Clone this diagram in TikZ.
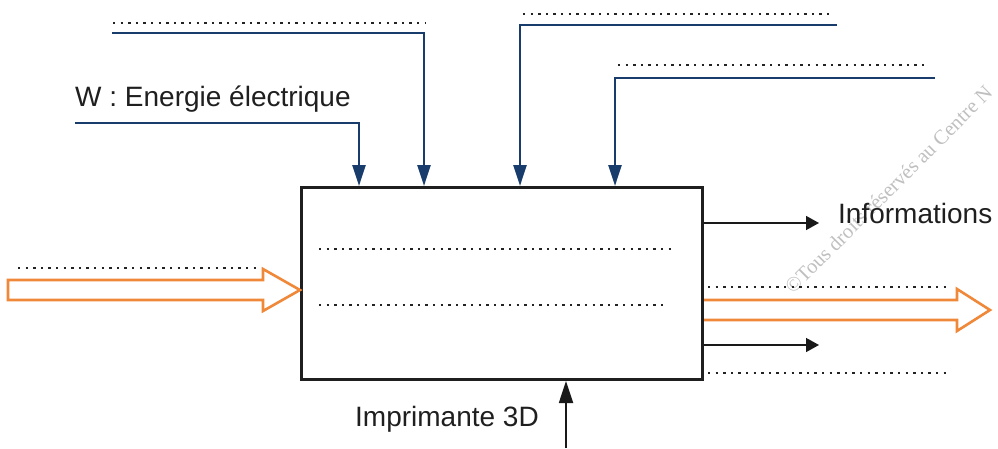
\documentclass[tikz,border=0pt]{standalone}
\usepackage{fontspec}
\setmainfont{Liberation Sans}
\newfontfamily\wmfont{Liberation Serif}
\usetikzlibrary{arrows.meta}
\definecolor{flowblue}{RGB}{24,60,108}
\definecolor{floworange}{RGB}{240,136,58}
\definecolor{dotgray}{RGB}{35,35,35}
\tikzset{
  bluearrow/.style={draw=flowblue, line width=2.4pt, -{Triangle[length=21pt,width=13pt]}},
  blackarrow/.style={draw=black!90, line width=1.5pt, -{Triangle[length=13pt,width=14pt]}},
  dotline/.style={draw=dotgray, line width=2.3pt, dash pattern=on 2.3pt off 5.3pt},
  orangearrow/.style={draw=floworange, line width=2.6pt, fill=white, line join=miter},
  lbl/.style={font=\fontsize{28}{33}\selectfont, text=black!88, inner sep=0pt, anchor=base west},
  mainbox/.style={draw=black!88, line width=3pt, inner sep=0pt}
}
\begin{document}
\begin{tikzpicture}[x=1pt,y=-1pt]
\useasboundingbox (0,0) rectangle (998,448);
\clip (0,0) rectangle (998,448);
% watermark
\node[font=\wmfont\fontsize{20.5}{24}\selectfont, text=black!25, rotate=45, anchor=base west, inner sep=0pt] (wm) at (793,295) {\copyright Tous droits réservés au Centre N};
% main box
\node[mainbox, minimum width=401pt, minimum height=192pt, anchor=north west] (box) at (300,186) {};
% blue inputs from top
\coordinate (b1s) at (112,33);
\coordinate (b2s) at (75,123);
\coordinate (b3s) at (837,25);
\coordinate (b4s) at (935,78);
\coordinate (b1e) at (424,186);
\coordinate (b2e) at (359,186);
\coordinate (b3e) at (520,186);
\coordinate (b4e) at (615,186);
\draw[bluearrow] (b1s) -| (b1e);
\draw[bluearrow] (b2s) -| (b2e);
\draw[bluearrow] (b3s) -| (b3e);
\draw[bluearrow] (b4s) -| (b4e);
% dotted placeholders
\coordinate (d1a) at (113,23); \coordinate (d1b) at (426,23);
\coordinate (d3a) at (523,14); \coordinate (d3b) at (834,14);
\coordinate (d4a) at (618,65); \coordinate (d4b) at (929,65);
\coordinate (dla) at (18,268); \coordinate (dlb) at (257,268);
\coordinate (dia) at (319,249); \coordinate (dib) at (671,249);
\coordinate (dja) at (319,305); \coordinate (djb) at (667,305);
\coordinate (dra) at (708,287); \coordinate (drb) at (948,287);
\coordinate (dsa) at (708,373); \coordinate (dsb) at (948,373);
\draw[dotline] (d1a) -- (d1b);
\draw[dotline] (d3a) -- (d3b);
\draw[dotline] (d4a) -- (d4b);
\draw[dotline] (dla) -- (dlb);
\draw[dotline] (dia) -- (dib);
\draw[dotline] (dja) -- (djb);
\draw[dotline] (dra) -- (drb);
\draw[dotline] (dsa) -- (dsb);
% orange left arrow (matter in)
\draw[orangearrow] (8,280) -- (263,280) -- (263,269) -- (box.west |- 0,290) -- (263,311) -- (263,300) -- (8,300) -- cycle;
% orange right arrow (matter out)
\draw[orangearrow] (box.east |- 0,300) -- (957,300) -- (957,289) -- (990,310) -- (957,331) -- (957,320) -- (box.east |- 0,320);
% black outputs
\coordinate (o1) at (819,223);
\coordinate (o2) at (819,345);
\draw[blackarrow] (box.east |- o1) -- (o1);
\draw[blackarrow] (box.east |- o2) -- (o2);
% support from below
\coordinate (s1) at (566,448);
\draw[draw=black!90, line width=1.8pt, -{Triangle[length=22pt,width=14pt]}] (s1) -- (box.south -| s1);
% labels
\node[lbl] (wlbl) at (75,106) {W : Energie électrique};
\node[lbl] (info) at (838,223) {Informations};
\node[lbl] (impr) at (355,426) {Imprimante 3D};
\end{tikzpicture}
\end{document}
